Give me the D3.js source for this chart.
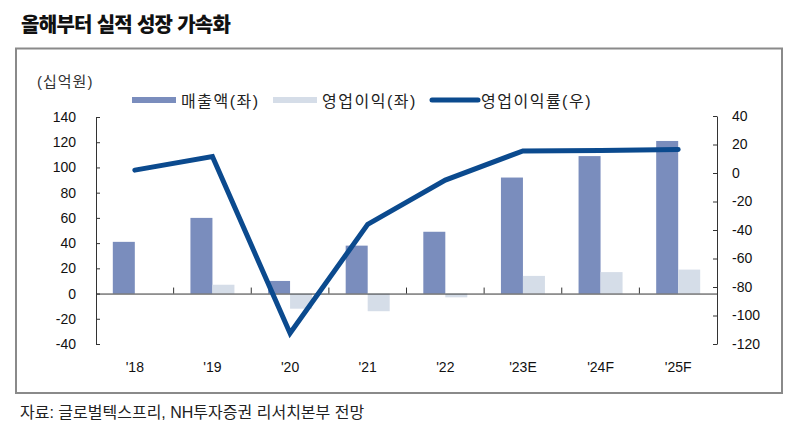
<!DOCTYPE html>
<html><head><meta charset="utf-8">
<script src="https://cdn.jsdelivr.net/npm/d3@7"></script>
<style>body{margin:0;background:#fff}svg{display:block}text{font-family:"Liberation Sans",Arial,"Noto Sans CJK KR",sans-serif}</style>
</head><body>
<script>
const categories = ["'18","'19","'20","'21","'22","'23E","'24F","'25F"];
const revenue = [41, 60, 10, 38, 49, 92, 109, 121];
const opProfit = [0, 7, -12, -14, -3, 14, 17, 19];
const opMargin = [2, 11.5, -112.5, -36, -5, 15.5, 15.8, 16.5];
const leftTicks = [140,120,100,80,60,40,20,0,-20,-40];
const rightTicks = [40,20,0,-20,-40,-60,-80,-100,-120];

const W=800,H=440;
const svg=d3.select("body").append("svg").attr("width",W).attr("height",H);
const kr='"Noto Sans CJK KR",sans-serif';

svg.append("text").attr("x",21).attr("y",32).attr("font-size",20).attr("font-weight",900)
  .attr("letter-spacing",-0.7).attr("font-family",kr).attr("fill","#111").text("올해부터 실적 성장 가속화");
svg.append("rect").attr("x",16).attr("y",48.5).attr("width",766).attr("height",344.5)
  .attr("fill","none").attr("stroke","#8a8a8a").attr("stroke-width",2);
svg.append("text").attr("x",20).attr("y",418).attr("font-size",16).attr("font-family",kr)
  .attr("fill","#222").text("자료: 글로벌텍스프리, NH투자증권 리서치본부 전망");
svg.append("text").attr("x",37).attr("y",87).attr("font-size",15).attr("letter-spacing",1).attr("font-family",kr)
  .attr("fill","#333").text("(십억원)");

const x0=96,x1=717;
const x=d3.scaleBand().domain(categories).range([x0,x1]).paddingInner(0).paddingOuter(0);
const yL=d3.scaleLinear().domain([-40,140]).range([344,117]);
const yR=d3.scaleLinear().domain([-120,40]).range([344,116]);
const bw=22;
const cRev="#7a8dbd", cOp="#d5dde8", cLine="#0b4a8e";

// bars
svg.append("g").selectAll("rect").data(categories).join("rect")
  .attr("x",d=>x(d)+x.bandwidth()/2-bw).attr("width",bw)
  .attr("y",(d,i)=>yL(Math.max(0,revenue[i]))).attr("height",(d,i)=>Math.abs(yL(revenue[i])-yL(0)))
  .attr("fill",cRev);
svg.append("g").selectAll("rect").data(categories).join("rect")
  .attr("x",d=>x(d)+x.bandwidth()/2).attr("width",bw)
  .attr("y",(d,i)=>yL(Math.max(0,opProfit[i]))).attr("height",(d,i)=>Math.abs(yL(opProfit[i])-yL(0)))
  .attr("fill",cOp);

const fmt=d=>String(d);
// left axis
const gl=svg.append("g").attr("transform",`translate(${x0},0)`)
  .call(d3.axisLeft(yL).tickValues(leftTicks).tickFormat(fmt).tickSize(-4).tickPadding(20).tickSizeOuter(0));
gl.select(".domain").attr("stroke","#333");
gl.selectAll(".tick line").attr("stroke","#333");
gl.selectAll("text").attr("font-size",14).attr("fill","#111");

// right axis
const gr=svg.append("g").attr("transform",`translate(${x1},0)`)
  .call(d3.axisRight(yR).tickValues(rightTicks).tickFormat(fmt).tickSize(-4).tickPadding(15).tickSizeOuter(0));
gr.select(".domain").attr("stroke","#333");
gr.selectAll(".tick line").attr("stroke","#333");
gr.selectAll("text").attr("font-size",14).attr("fill","#111");

// x baseline with category boundary ticks
const gx=svg.append("g").attr("transform",`translate(0,${yL(0)})`)
  .call(d3.axisBottom(x).tickSize(0).tickSizeOuter(0).tickPadding(0));
gx.select(".domain").attr("stroke","#333");
gx.selectAll("text").remove();
svg.append("g").selectAll("line").data(categories.slice(1)).join("line")
  .attr("x1",d=>x(d)).attr("x2",d=>x(d)).attr("y1",yL(0)-6).attr("y2",yL(0))
  .attr("stroke","#333");
svg.append("g").selectAll("text").data(categories).join("text")
  .attr("x",d=>x(d)+x.bandwidth()/2).attr("y",372).attr("text-anchor","middle")
  .attr("font-size",14).attr("fill","#111").text(d=>d);

// line
const line=d3.line().x((d,i)=>x(categories[i])+x.bandwidth()/2).y(d=>yR(d));
svg.append("path").datum(opMargin).attr("d",line).attr("fill","none")
  .attr("stroke",cLine).attr("stroke-width",5).attr("stroke-linejoin","miter").attr("stroke-linecap","round");

// legend
const lg=svg.append("g");
lg.append("rect").attr("x",132).attr("y",97).attr("width",44).attr("height",6).attr("fill",cRev);
lg.append("text").attr("x",181).attr("y",107).attr("font-size",16).attr("letter-spacing",1.5).attr("font-family",kr).attr("fill","#222").text("매출액(좌)");
lg.append("rect").attr("x",273).attr("y",97).attr("width",44).attr("height",6).attr("fill",cOp);
lg.append("text").attr("x",322).attr("y",107).attr("font-size",16).attr("letter-spacing",1.5).attr("font-family",kr).attr("fill","#222").text("영업이익(좌)");
lg.append("line").attr("x1",432).attr("x2",478).attr("y1",100).attr("y2",100).attr("stroke",cLine).attr("stroke-width",5).attr("stroke-linecap","round");
lg.append("text").attr("x",481).attr("y",107).attr("font-size",16).attr("letter-spacing",1.5).attr("font-family",kr).attr("fill","#222").text("영업이익률(우)");
</script>
</body></html>
